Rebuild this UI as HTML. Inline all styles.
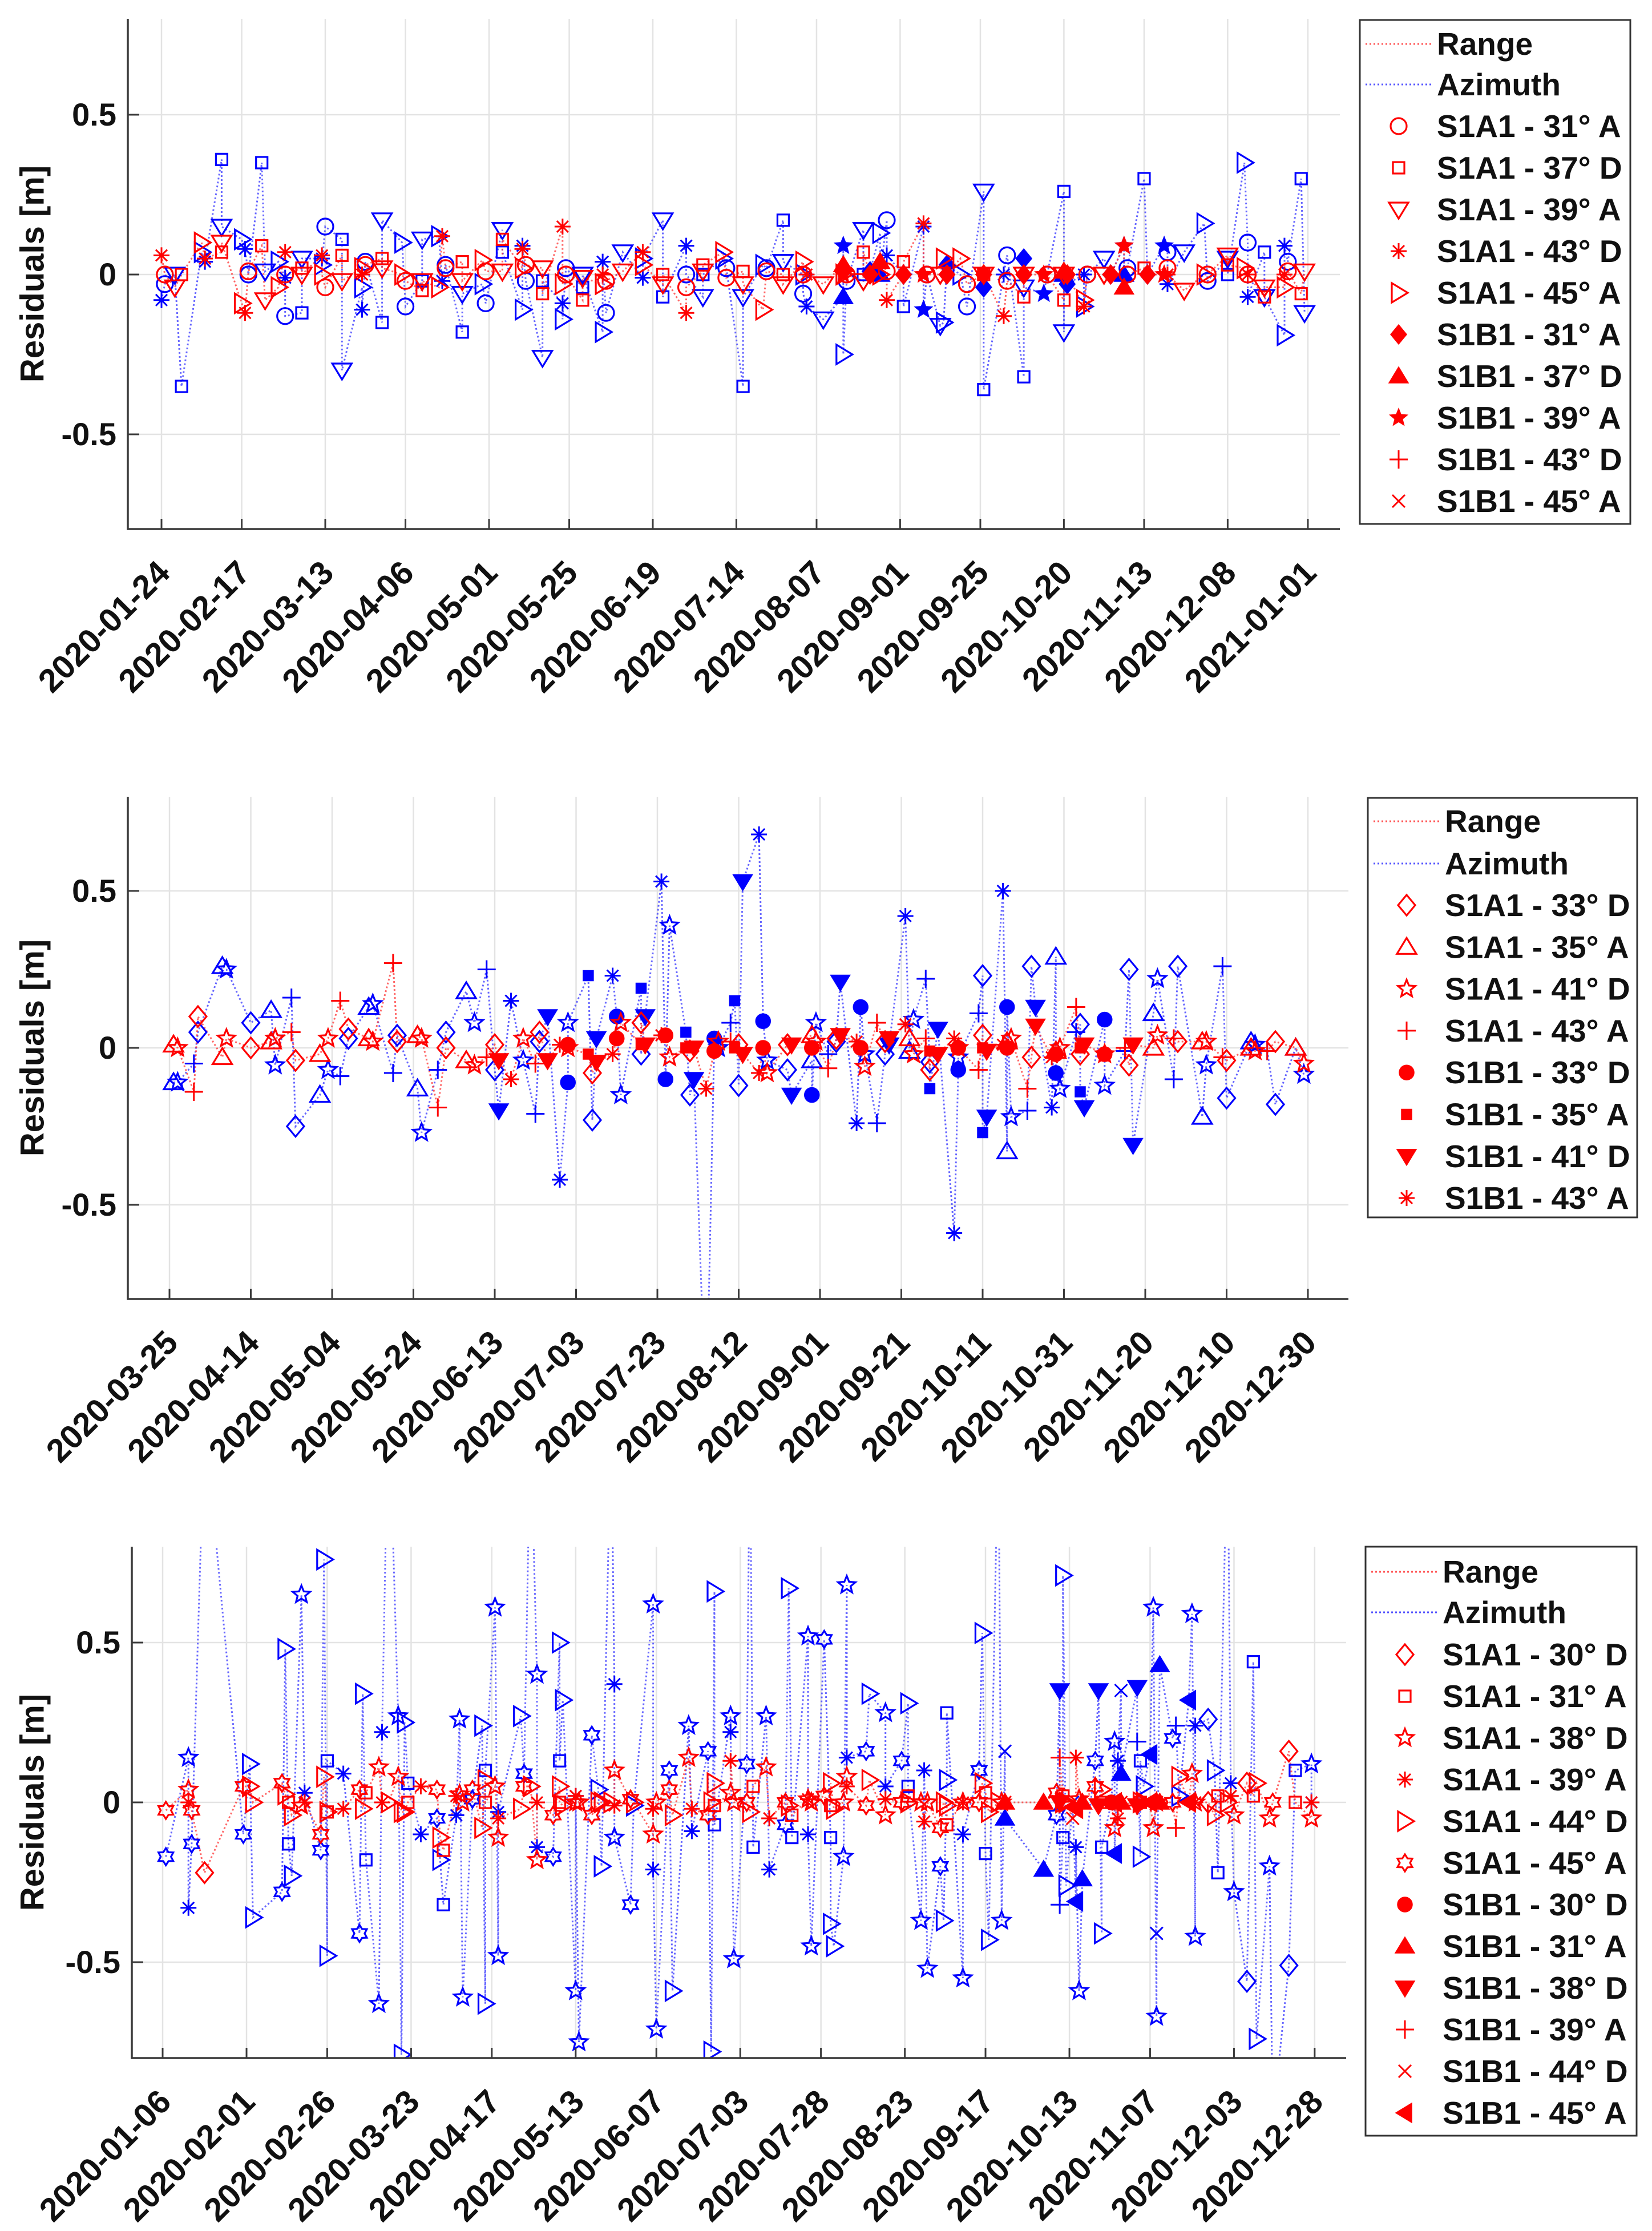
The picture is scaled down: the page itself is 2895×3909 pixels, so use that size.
<!DOCTYPE html>
<html><head><meta charset="utf-8"><title>Residuals</title>
<style>
html,body{margin:0;padding:0;background:#fff;}
svg{display:block;font-family:"Liberation Sans",Arial,sans-serif;}
</style></head>
<body>
<svg id="fig" xmlns="http://www.w3.org/2000/svg" width="2895" height="3909" viewBox="0 0 2895 3909"></svg>
<script>
// ---------- Panel 1 data ----------
const p1Ticks = ["2020-01-24","2020-02-17","2020-03-13","2020-04-06","2020-05-01","2020-05-25","2020-06-19","2020-07-14","2020-08-07","2020-09-01","2020-09-25","2020-10-20","2020-11-13","2020-12-08","2021-01-01"];
const p1Legend = ["S1A1 - 31° A","S1A1 - 37° D","S1A1 - 39° A","S1A1 - 43° D","S1A1 - 45° A","S1B1 - 31° A","S1B1 - 37° D","S1B1 - 39° A","S1B1 - 43° D","S1B1 - 45° A"];
const p1Day = [25,24,28,30,36,37,42,42,48,49,50,54,55,59,61,61,66,66,72,72,73,78,78,84,84,85,90,90,96,97,102,102,107,108,109,114,114,120,121,126,126,132,132,133,138,138,144,144,145,150,150,156,156,157,162,168,168,174,174,181,181,186,186,192,193,198,198,204,205,210,210,216,216,217,222,228,228,228,229,234,234,236,239,239,241,241,246,246,252,252,253,258,257,259,263,265,270,270,270,276,277,282,282,282,288,289,294,294,294,295,300,300,301,306,308,312,312,313,318,319,324,325,325,330,336,337,343,343,348,349,349,354,354,360,360,361,365,366];
const p1Ser = [0,3,2,1,4,3,1,2,4,3,0,1,2,4,3,0,1,2,3,4,0,1,2,4,3,0,1,2,4,0,1,2,4,3,0,1,2,4,0,2,1,4,3,0,2,1,3,4,0,1,2,4,3,0,2,3,4,2,1,3,0,2,1,4,0,1,2,4,0,1,2,4,0,3,2,6,7,4,0,2,1,5,4,6,0,3,5,1,3,7,0,4,2,5,4,0,2,5,1,3,0,1,5,2,7,0,1,2,6,5,3,4,0,2,5,7,6,0,1,5,7,0,3,2,4,0,2,1,4,0,3,1,2,4,3,0,1,2];
const p1Rng = [0.0,0.06,-0.04,0.0,0.10,0.05,0.07,0.10,-0.09,-0.12,0.01,0.09,-0.08,-0.04,0.07,0.0,0.02,0.0,0.06,0.0,-0.04,0.06,-0.02,0.02,0.0,0.03,0.05,0.02,0.0,-0.02,-0.05,-0.02,-0.04,0.12,0.02,0.04,-0.02,0.045,0.01,0.01,0.11,0.02,0.08,0.03,0.02,-0.06,0.15,-0.03,0.0,-0.08,-0.01,-0.03,0.0,-0.02,0.01,0.07,0.03,-0.03,0.0,-0.12,-0.04,0.01,0.03,0.07,-0.01,0.01,-0.03,-0.11,0.01,0.0,-0.03,0.04,0.0,0.0,-0.03,0.03,0.0,0.0,0.0,-0.02,0.07,0.0,0.0,0.04,0.01,-0.08,0.0,0.04,0.16,0.0,0.0,0.05,0.0,0.0,0.05,-0.03,0.0,0.0,0.0,-0.13,-0.02,-0.07,0.0,0.0,0.0,0.0,-0.08,0.0,0.01,0.0,-0.10,-0.08,0.0,0.0,0.0,0.09,-0.04,0.0,0.02,0.0,0.0,0.02,0.0,-0.05,0.0,0.0,0.06,0.03,0.02,0.0,0.0,-0.07,-0.04,-0.04,0.0,0.01,-0.06,0.01];
const p1Az = [-0.03,-0.08,0.0,-0.35,0.07,0.04,0.36,0.15,0.11,0.08,0.0,0.35,0.01,0.04,-0.01,-0.13,-0.12,0.05,0.05,0.03,0.15,0.11,-0.30,-0.04,-0.11,0.04,-0.15,0.17,0.10,-0.10,-0.02,0.11,0.12,-0.02,0.03,-0.18,-0.06,-0.03,-0.09,0.14,0.07,-0.11,0.09,-0.02,-0.26,-0.02,-0.09,-0.14,0.02,-0.04,0.0,-0.18,0.04,-0.12,0.07,-0.01,0.05,0.17,-0.07,0.09,0.0,-0.07,0.0,0.05,0.02,-0.35,-0.07,0.03,0.02,0.17,0.04,0.0,-0.06,-0.10,-0.14,-0.07,0.09,-0.25,-0.02,0.14,0.0,0.01,0.13,0.0,0.17,0.06,0.0,-0.10,0.15,-0.11,0.0,-0.15,-0.16,0.03,0.0,-0.10,0.26,-0.04,-0.36,0.0,0.06,-0.32,0.05,-0.04,-0.06,0.0,0.26,-0.18,0.0,-0.03,0.0,-0.10,0.0,0.05,0.0,0.09,0.0,0.02,0.30,0.0,0.09,0.07,-0.03,0.07,0.16,-0.02,0.05,0.0,0.35,0.10,-0.07,0.07,-0.07,-0.19,0.09,0.04,0.30,-0.12];

// ---------- Panel 2 data ----------
const p2Ticks = ["2020-03-25","2020-04-14","2020-05-04","2020-05-24","2020-06-13","2020-07-03","2020-07-23","2020-08-12","2020-09-01","2020-09-21","2020-10-11","2020-10-31","2020-11-20","2020-12-10","2020-12-30"];
const p2Legend = ["S1A1 - 33° D","S1A1 - 35° A","S1A1 - 41° D","S1A1 - 43° A","S1B1 - 33° D","S1B1 - 35° A","S1B1 - 41° D","S1B1 - 43° A"];
const p2Day = [86,87,91,92,98,99,105,110,111,115,116,122,124,127,129,134,135,140,141,146,147,151,153,158,160,163,165,166,169,172,175,176,178,181,183,183,188,189,190,194,195,196,201,201,202,206,207,208,212,213,214,217,219,220,223,224,225,226,230,231,232,237,238,243,243,244,247,249,250,254,255,256,259,261,262,266,267,268,271,272,272,274,278,279,279,284,285,285,286,290,291,291,292,296,297,298,302,303,303,304,308,309,309,310,315,315,320,321,322,327,328,332,333,339,340,344,345,351,352,355,357,362,364];
const p2Ser = [1,2,3,0,1,2,0,1,2,3,0,1,2,3,0,1,2,3,0,1,2,3,0,1,2,3,0,6,7,2,3,0,6,7,4,2,5,0,6,7,4,2,5,0,6,7,4,2,5,0,6,7,4,2,3,5,0,6,7,4,2,0,6,1,4,2,3,0,6,7,4,2,3,0,6,7,1,2,3,0,5,6,7,4,2,3,0,5,6,7,1,4,2,3,0,6,7,1,4,2,3,0,5,6,4,2,3,0,6,1,2,3,0,1,2,3,0,1,2,3,0,1,2];
const p2Rng = [0.01,0.0,-0.14,0.10,-0.03,0.03,0.0,0.02,0.03,0.05,-0.04,-0.02,0.03,0.15,0.06,0.03,0.02,0.27,0.02,0.04,0.03,-0.19,0.0,-0.04,-0.055,-0.03,0.01,-0.04,-0.10,0.03,-0.05,0.05,-0.04,0.01,0.01,0.0,-0.02,-0.08,-0.045,-0.02,0.03,0.08,0.01,0.08,0.01,0.04,0.04,-0.03,0.0,-0.01,0.0,-0.13,-0.01,0.02,0.02,0.0,0.01,-0.02,-0.08,0.0,-0.08,0.01,0.01,0.04,0.0,0.02,-0.065,0.03,0.04,0.02,0.0,-0.06,0.08,0.02,0.03,0.075,0.03,-0.02,0.03,-0.07,-0.01,-0.02,0.03,0.0,0.0,-0.07,0.04,0.0,-0.01,0.01,0.02,0.0,0.03,-0.13,-0.03,0.07,-0.03,-0.01,-0.02,0.0,0.13,-0.02,0.0,0.01,-0.02,-0.02,0.0,-0.055,0.01,0.0,0.04,0.03,0.02,0.02,0.02,-0.03,-0.04,0.0,-0.01,-0.01,0.02,0.0,-0.05];
const p2Az = [-0.11,-0.11,-0.05,0.05,0.26,0.25,0.08,0.12,-0.055,0.16,-0.25,-0.15,-0.07,-0.09,0.03,0.13,0.14,-0.08,0.04,-0.13,-0.27,-0.07,0.05,0.18,0.08,0.25,-0.07,-0.20,0.15,-0.04,-0.21,0.02,0.10,-0.42,-0.11,0.08,0.23,-0.23,0.03,0.23,0.10,-0.15,0.19,-0.02,0.10,0.53,-0.10,0.39,0.05,-0.15,-0.10,-1.2,0.03,0.0,0.08,0.15,-0.12,0.53,0.68,0.085,-0.04,-0.07,-0.15,-0.04,-0.15,0.08,-0.02,0.02,0.21,-0.24,0.13,-0.02,-0.24,-0.02,0.01,0.42,-0.01,0.09,0.22,-0.045,-0.13,0.06,-0.59,-0.07,-0.03,0.11,0.23,-0.27,-0.22,0.50,-0.33,0.13,-0.22,-0.20,0.26,0.13,-0.19,0.29,-0.08,-0.13,0.05,0.075,-0.14,-0.19,0.09,-0.12,-0.01,0.25,-0.31,0.11,0.22,-0.10,0.26,-0.22,-0.055,0.26,-0.16,0.02,0.01,-0.01,-0.18,0.0,-0.085];

// ---------- Panel 3 data ----------
const p3Ticks = ["2020-01-06","2020-02-01","2020-02-26","2020-03-23","2020-04-17","2020-05-13","2020-06-07","2020-07-03","2020-07-28","2020-08-23","2020-09-17","2020-10-13","2020-11-07","2020-12-03","2020-12-28"];
const p3Legend = ["S1A1 - 30° D","S1A1 - 31° A","S1A1 - 38° D","S1A1 - 39° A","S1A1 - 44° D","S1A1 - 45° A","S1B1 - 30° D","S1B1 - 31° A","S1B1 - 38° D","S1B1 - 39° A","S1B1 - 44° D","S1B1 - 45° A"];
const p3Day = [7,14,14,15,19,33,34,31,43,44,45,46,49,50,55,56,57,57,62,67,68,69,73,74,76,79,80,81,82,86,91,92,93,97,98,99,102,105,106,106,109,110,110,117,118,120,122,122,127,129,130,129,134,135,134,139,141,142,145,146,146,151,152,158,158,159,163,164,169,170,175,177,177,176,182,183,182,187,188,189,193,194,200,201,199,206,207,206,211,213,213,214,218,217,218,225,224,230,230,235,237,237,242,241,243,247,249,248,249,254,254,259,260,261,262,265,266,267,267,279,283,284,284,285,285,286,289,289,290,291,288,295,296,297,297,301,302,303,303,301,300,308,308,309,310,309,312,313,314,314,315,319,320,321,324,325,326,326,330,332,333,336,337,338,342,344,345,349,350,355,357,362,362];
const p3Ser = [5,2,3,5,0,4,4,5,5,4,1,4,2,3,5,4,4,1,3,5,4,1,2,3,4,2,4,4,1,3,5,4,1,3,2,2,5,4,4,1,2,2,3,4,5,4,2,3,5,4,4,1,2,2,3,5,4,4,4,3,2,5,4,2,3,2,5,4,2,3,5,4,1,4,2,2,3,5,4,1,2,3,4,1,5,2,2,3,5,1,4,4,2,2,3,4,5,2,3,5,4,1,3,2,2,5,4,4,1,2,3,5,4,1,4,4,2,10,7,7,5,8,9,1,4,4,11,3,2,7,10,5,8,4,1,2,3,10,7,11,6,8,9,4,4,1,11,2,2,10,7,5,9,4,11,2,2,3,0,4,1,4,3,2,0,1,4,2,5,0,1,2,3];
const p3Rng = [-0.025,0.04,0.0,-0.025,-0.22,0.05,0.0,0.05,0.06,0.025,0.0,-0.04,-0.01,0.0,-0.10,0.08,-0.03,-0.03,-0.02,0.04,-0.02,0.03,0.11,0.0,0.0,0.08,-0.03,-0.03,0.0,0.05,0.04,-0.11,-0.15,0.02,0.025,0.0,0.04,-0.08,0.07,0.0,0.05,-0.11,-0.05,-0.02,0.05,0.05,-0.18,0.0,-0.04,0.05,-0.01,0.0,0.0,0.0,0.02,-0.04,0.0,0.0,0.0,-0.01,0.10,0.01,0.0,-0.10,-0.02,0.0,0.04,-0.04,0.14,-0.02,-0.04,0.06,-0.01,0.0,0.03,0.0,0.13,0.0,-0.03,0.05,0.11,-0.05,-0.01,-0.04,0.0,0.01,0.0,0.01,0.02,-0.01,0.06,-0.02,0.08,0.0,0.05,0.07,-0.01,-0.04,0.01,0.0,0.0,0.02,-0.06,0.0,0.0,-0.08,-0.01,0.0,-0.07,0.0,0.0,0.0,0.06,0.03,-0.03,0.0,0.0,0.0,0.0,0.0,0.03,0.0,0.14,0.02,0.0,0.0,-0.02,0.14,0.01,0.0,-0.05,0.05,-0.01,0.04,0.0,-0.08,-0.05,0.0,0.0,0.0,0.0,-0.01,-0.01,0.0,0.0,0.0,0.0,-0.08,0.0,0.0,0.0,0.0,-0.08,0.08,0.0,0.09,0.0,0.0,0.0,-0.04,0.02,0.0,0.02,-0.04,0.06,0.02,0.06,-0.05,0.0,0.16,0.0,-0.05,0.0];
const p3Az = [-0.17,0.14,-0.33,-0.13,1.2,0.12,-0.36,-0.10,-0.28,0.48,-0.13,-0.23,0.65,0.03,-0.15,0.76,-0.48,0.13,0.09,-0.41,0.34,-0.18,-0.63,0.22,1.3,0.27,-0.79,0.25,0.06,-0.10,-0.05,-0.18,-0.32,-0.04,0.26,-0.61,0.01,0.24,-0.63,0.10,0.61,-0.48,-0.03,0.27,0.09,1.2,0.40,-0.14,-0.17,0.50,0.32,0.13,-0.59,-0.75,0.02,0.21,0.04,-0.2,1.2,0.37,-0.11,-0.32,-0.01,0.62,-0.21,-0.71,0.10,-0.59,0.24,-0.09,0.16,0.66,-0.07,-0.78,0.27,-0.49,0.22,0.12,1.2,-0.14,0.27,-0.21,0.67,-0.11,-0.07,0.52,-0.45,-0.10,0.51,-0.11,-0.38,-0.45,0.68,-0.17,0.14,0.34,0.16,0.28,0.05,0.13,0.31,0.05,0.10,-0.37,-0.52,-0.2,0.07,-0.37,0.28,-0.55,-0.1,0.1,0.53,-0.16,-0.43,1.2,-0.37,0.16,-0.05,-0.21,-0.04,0.35,-0.32,-0.11,0.71,-0.26,-0.31,-0.14,-0.59,-0.24,0.0,0.13,0.35,-0.41,-0.14,0.19,0.13,0.35,0.09,-0.16,0.0,0.36,0.19,-0.17,0.05,0.13,0.15,0.61,-0.67,-0.41,0.43,0.2,0.24,0.02,0.32,0.59,-0.42,0.24,0.26,0.10,-0.22,1.2,0.06,-0.28,-0.56,0.44,-0.74,-0.20,-1.0,-0.51,0.10,0.12,0.0];

const yTickVals = [0.5, 0, -0.5];
const yTickLabels = ["0.5","0","-0.5"];

const NS = "http://www.w3.org/2000/svg";
const svg = document.getElementById("fig");
const RED = "#ff0000", BLUE = "#0000ff";

function el(tag, attrs, parent) {
  const e = document.createElementNS(NS, tag);
  for (const k in attrs) e.setAttribute(k, attrs[k]);
  (parent || svg).appendChild(e);
  return e;
}
function dayOf(s) {
  const p = s.split("-").map(Number);
  return Math.round((Date.UTC(p[0], p[1]-1, p[2]) - Date.UTC(2020,0,0)) / 86400000);
}

function drawMarker(g, type, x, y, color) {
  const sw = 3.2;
  let e;
  const o = {fill:"none", stroke:color, "stroke-width":sw};
  const f = {fill:color, stroke:color, "stroke-width":1.5};
  const poly = (pts, st) => el("polygon", Object.assign({points: pts.map(p => (x+p[0]).toFixed(1)+","+(y+p[1]).toFixed(1)).join(" ")}, st), g);
  const star = (n, R, r) => { const pts=[]; for (let i=0;i<2*n;i++){ const a=-Math.PI/2+i*Math.PI/n; const rr=i%2?r:R; pts.push([rr*Math.cos(a), rr*Math.sin(a)]);} return pts; };
  switch (type) {
    case "circle": e = el("circle", Object.assign({cx:x, cy:y, r:14}, o), g); break;
    case "fcircle": e = el("circle", Object.assign({cx:x, cy:y, r:13}, f), g); break;
    case "square": e = el("rect", Object.assign({x:x-10, y:y-10, width:20, height:20}, o), g); break;
    case "fsquare": e = el("rect", Object.assign({x:x-9, y:y-9, width:18, height:18}, f), g); break;
    case "dtri": e = poly([[-17,-12],[17,-12],[0,16]], o); break;
    case "fdtri": e = poly([[-17,-12],[17,-12],[0,16]], f); break;
    case "utri": e = poly([[-17,12],[17,12],[0,-16]], o); break;
    case "futri": e = poly([[-17,12],[17,12],[0,-16]], f); break;
    case "rtri": e = poly([[-12,-17],[-12,17],[16,0]], o); break;
    case "fltri": e = poly([[12,-17],[12,17],[-16,0]], f); break;
    case "diamond": e = poly([[0,-18],[15,0],[0,18],[-15,0]], o); break;
    case "fdiamond": e = poly([[0,-17],[14,0],[0,17],[-14,0]], f); break;
    case "pentagram": e = poly(star(5,16,7), o); break;
    case "fstar": e = poly(star(5,16,7), f); break;
    case "hexagram": e = poly(star(6,15,9), o); break;
    case "asterisk": {
      const d = "M"+(x-14)+" "+y+"h28M"+x+" "+(y-14)+"v28M"+(x-10)+" "+(y-10)+"l20 20M"+(x+10)+" "+(y-10)+"l-20 20";
      e = el("path", {d:d, stroke:color, "stroke-width":3, fill:"none"}, g); break; }
    case "plus": e = el("path", {d:"M"+(x-16)+" "+y+"h32M"+x+" "+(y-16)+"v32", stroke:color, "stroke-width":3, fill:"none"}, g); break;
    case "x": e = el("path", {d:"M"+(x-11)+" "+(y-11)+"l22 22M"+(x+11)+" "+(y-11)+"l-22 22", stroke:color, "stroke-width":3, fill:"none"}, g); break;
  }
  return e;
}

function panel(cfg) {
  const pg = el("g", {});
  
  
  const X = d => cfg.x0 + (d - cfg.d0) * cfg.pxd;
  const Y = v => cfg.zero - v * cfg.pxu;

  // grid
  const grid = el("g", {stroke:"#e3e3e3", "stroke-width":2.5}, pg);
  
  
  cfg.ticks.forEach(t => { const x = X(dayOf(t)); el("line", {x1:x, x2:x, y1:cfg.T, y2:cfg.B}, grid); });
  yTickVals.forEach(v => el("line", {x1:cfg.L, x2:cfg.R, y1:Y(v), y2:Y(v)}, grid));

  // clip
  const cid = cfg.name + "-clip";
  const cp = el("clipPath", {id:cid}, pg);
  el("rect", {x:cfg.L, y:cfg.T, width:cfg.R-cfg.L, height:cfg.B-cfg.T}, cp);
  const plot = el("g", {"clip-path":"url(#"+cid+")"}, pg);
  
  

  const idx = cfg.day.map((d,i)=>i).sort((a,b)=>cfg.day[a]-cfg.day[b]);
  function line(vals, color, nm) {
    const pts = idx.map(i => X(cfg.day[i]).toFixed(1)+","+Y(vals[i]).toFixed(1)).join(" ");
    const pl = el("polyline", {points:pts, fill:"none", stroke:color, "stroke-width":3, "stroke-dasharray":"3 4", opacity:0.75}, plot);
    
    
  }
  line(cfg.az, "#3333ff", "azimuth-line");
  line(cfg.rng, "#ff3333", "range-line");
  const gb = el("g", {}, plot);
  
  
  const gr = el("g", {}, plot);
  
  
  idx.forEach(i => {
    const t = cfg.types[cfg.ser[i]];
    const mb = drawMarker(gb, t, X(cfg.day[i]), Y(cfg.az[i]), BLUE);
    
    
    const mr = drawMarker(gr, t, X(cfg.day[i]), Y(cfg.rng[i]), RED);
    
    
  });

  // axes
  const ax = el("path", {d:"M"+cfg.L+" "+cfg.T+"V"+cfg.B+"H"+cfg.R, stroke:"#3a3a3a", "stroke-width":3.5, fill:"none"}, pg);
  
  
  cfg.ticks.forEach(t => {
    const x = X(dayOf(t));
    el("line", {x1:x, x2:x, y1:cfg.B, y2:cfg.B-18, stroke:"#3a3a3a", "stroke-width":3}, pg);
    const tx = el("text", {x:x+18, y:cfg.B+80, "font-size":58, "font-weight":"bold", "text-anchor":"end", fill:"#111", transform:"rotate(-45 "+(x+18)+" "+(cfg.B+80)+")"}, pg);
    tx.textContent = t;
    
    
  });
  yTickVals.forEach((v,k) => {
    el("line", {x1:cfg.L, x2:cfg.L+20, y1:Y(v), y2:Y(v), stroke:"#3a3a3a", "stroke-width":3}, pg);
    const ty = el("text", {x:cfg.L-20, y:Y(v)+19, "font-size":56, "font-weight":"bold", "text-anchor":"end", fill:"#111"}, pg);
    ty.textContent = yTickLabels[k];
    
    
  });
  const cy = (cfg.T + cfg.B)/2;
  const yl = el("text", {x:57, y:cy, "font-size":58, "font-weight":"bold", "text-anchor":"middle", "dominant-baseline":"central", fill:"#111", transform:"rotate(-90 57 "+cy+")"}, pg);
  yl.textContent = "Residuals [m]";
  
  

  // legend
  const lg = el("g", {}, pg);
  
  
  el("rect", {x:cfg.lg.L, y:cfg.lg.T, width:cfg.lg.R-cfg.lg.L, height:cfg.lg.B-cfg.lg.T, fill:"#fff", stroke:"#333", "stroke-width":3}, lg);
  const lx1 = cfg.lg.L + 10, lx2 = cfg.lg.mx + 58;
  [["Range","#ff5555"],["Azimuth","#5555ff"]].forEach((r,k) => {
    const yy = cfg.lg.rows[k];
    el("line", {x1:lx1, x2:lx2, y1:yy, y2:yy, stroke:r[1], "stroke-width":3, "stroke-dasharray":"3 4"}, lg);
    const t = el("text", {x:cfg.lg.tx, y:yy+19, "font-size":55, "font-weight":"bold", fill:"#111"}, lg);
    t.textContent = r[0];
    
    
  });
  cfg.legend.forEach((lab,k) => {
    const yy = cfg.lg.r0 + k*cfg.lg.step;
    drawMarker(lg, cfg.types[k], cfg.lg.mx, yy, RED);
    const t = el("text", {x:cfg.lg.tx, y:yy+19, "font-size":55, "font-weight":"bold", fill:"#111"}, lg);
    t.textContent = lab;
    
    
  });
}

panel({name:"panel-1", L:224, R:2348, T:33, B:927, zero:481, pxu:560, x0:283, d0:24, pxd:5.857,
  ticks:p1Ticks, legend:p1Legend, day:p1Day, ser:p1Ser, rng:p1Rng, az:p1Az,
  types:["circle","square","dtri","asterisk","rtri","fdiamond","futri","fstar","plus","x"],
  lg:{L:2383, R:2857, T:35, B:918, rows:[77,148], r0:221, step:73, mx:2451, tx:2518}});
panel({name:"panel-2", L:224, R:2363, T:1396, B:2276, zero:1836, pxu:550, x0:297, d0:85, pxd:7.125,
  ticks:p2Ticks, legend:p2Legend, day:p2Day, ser:p2Ser, rng:p2Rng, az:p2Az,
  types:["diamond","utri","pentagram","plus","fcircle","fsquare","fdtri","asterisk"],
  lg:{L:2397, R:2869, T:1398, B:2133, rows:[1439,1513], r0:1586, step:73.3, mx:2465, tx:2532}});
panel({name:"panel-3", L:231, R:2359, T:2710, B:3606, zero:3158, pxu:560, x0:285, d0:6, pxd:5.655,
  ticks:p3Ticks, legend:p3Legend, day:p3Day, ser:p3Ser, rng:p3Rng, az:p3Az,
  types:["diamond","square","pentagram","asterisk","rtri","hexagram","fcircle","futri","fdtri","plus","x","fltri"],
  lg:{L:2393, R:2868, T:2710, B:3742, rows:[2754,2825], r0:2899, step:73, mx:2462, tx:2528}});
</script>
</body></html>
